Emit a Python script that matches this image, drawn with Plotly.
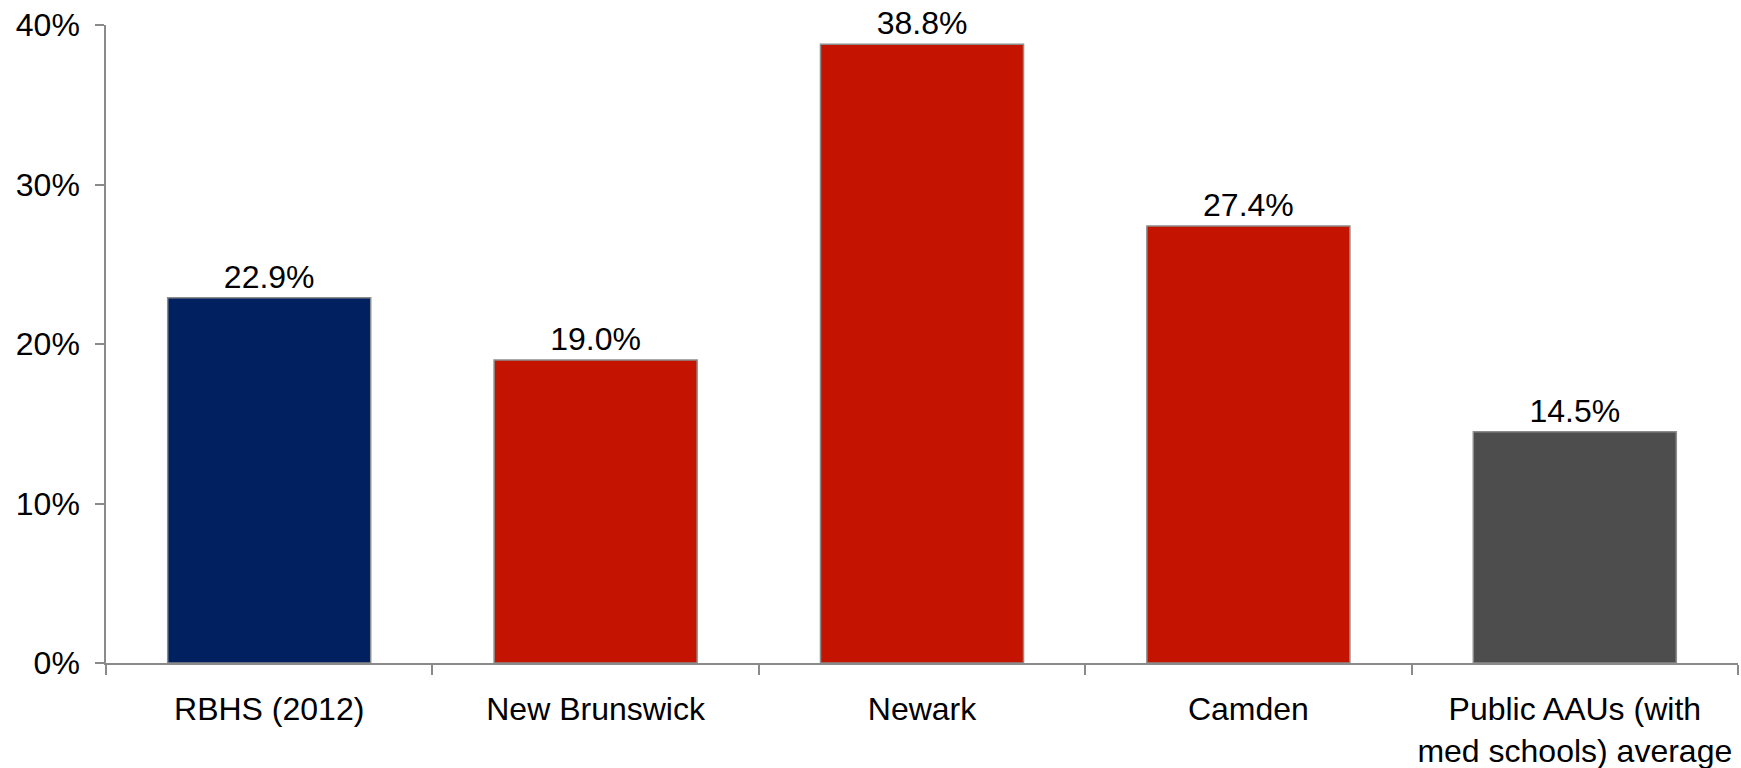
import plotly.graph_objects as go

# Share of each unit, in percent
categories = ["RBHS (2012)", "New Brunswick", "Newark", "Camden",
              "Public AAUs (with<br>med schools) average"]
values = [22.9, 19.0, 38.8, 27.4, 14.5]
bar_colors = ["#002060", "#C41400", "#C41400", "#C41400", "#4D4D4D"]
y_ticks = [0, 10, 20, 30, 40]
y_tick_labels = ["0%", "10%", "20%", "30%", "40%"]

FONT = "Liberation Sans, Arial, sans-serif"
FONT_SIZE = 32
AXIS_GREY = "#8A8A8A"

fig = go.Figure(
    go.Bar(
        x=categories,
        y=values,
        marker=dict(color=bar_colors, line=dict(color="#8C8C8C", width=1.5)),
        text=[f"{v:.1f}%" for v in values],
        textposition="outside",
        textfont=dict(family=FONT, size=FONT_SIZE, color="#000000"),
        cliponaxis=False,
        hoverinfo="skip",
    )
)

fig.update_layout(
    width=1741,
    height=768,
    margin=dict(l=106, r=3, t=25, b=105),
    paper_bgcolor="white",
    plot_bgcolor="white",
    bargap=0.378,
    showlegend=False,
    font=dict(family=FONT, size=FONT_SIZE, color="#000000"),
)

fig.update_xaxes(
    type="category",
    automargin=False,
    showline=True,
    linecolor=AXIS_GREY,
    linewidth=1.5,
    ticks="outside",
    tickson="boundaries",
    ticklen=10,
    tickwidth=1.5,
    tickcolor=AXIS_GREY,
    showgrid=False,
    ticklabelstandoff=17,
    tickfont=dict(family=FONT, size=FONT_SIZE, color="#000000"),
)

fig.update_yaxes(
    range=[0, 40],
    automargin=False,
    tickvals=y_ticks,
    ticktext=y_tick_labels,
    showline=True,
    linecolor=AXIS_GREY,
    linewidth=1.5,
    ticks="outside",
    ticklen=9,
    tickwidth=1.5,
    tickcolor=AXIS_GREY,
    showgrid=False,
    zeroline=False,
    ticklabelstandoff=9,
    tickfont=dict(family=FONT, size=FONT_SIZE, color="#000000"),
)

fig.write_html("out.html")
